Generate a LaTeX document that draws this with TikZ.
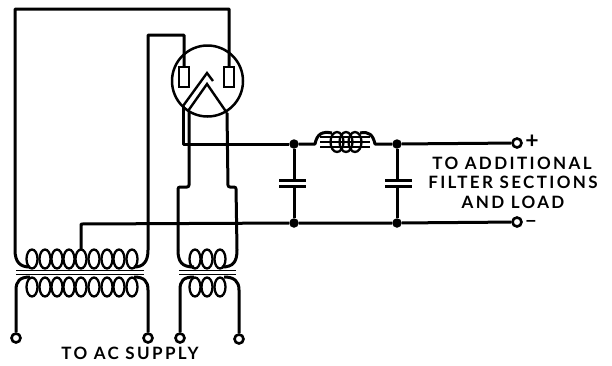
\documentclass[tikz,border=0pt]{standalone}
\usepackage{fontspec}
\setmainfont{Lato}[UprightFont=* Bold,LetterSpace=14]
\begin{document}
\begin{tikzpicture}[x=1pt,y=-1pt,
  wire/.style={line width=3pt,line join=round},
  thin wire/.style={line width=2.4pt},
  coil/.style={line width=2.3pt},
  term/.style={circle,draw,line width=2.6pt,fill=white,minimum size=9pt,inner sep=0pt},
  dot/.style={circle,fill=black,minimum size=9.5pt,inner sep=0pt},
  plate/.style={rectangle,draw,line width=2.2pt,fill=white,minimum width=10pt,minimum height=20pt,inner sep=0pt},
  lbl/.style={font=\fontsize{17}{19}\selectfont,align=center,inner sep=0pt},
  sign/.style={font=\fontsize{23}{23}\selectfont,inner sep=0pt},
  corel/.style={line width=1.5pt}]
\useasboundingbox (0,0) rectangle (612,365);
\fill[white] (0,0) rectangle (612,365);
% named points
\coordinate (tl) at (15,9); \coordinate (tr) at (229,9);
\coordinate (il) at (148,35); \coordinate (ir) at (184,35);
\node[circle,draw,line width=2.5pt,minimum size=71pt,inner sep=0pt] (tube) at (207.5,81) {};
\node[plate] (pl) at (184,77) {};
\node[plate] (pr) at (229,77) {};
\coordinate (cL) at (183,144);
\node[dot] (j1) at (294,144) {};
\node[dot] (j2) at (397,144) {};
\node[dot] (j3) at (294,223) {};
\node[dot] (j4) at (397,223) {};
\node[term] (tp) at (517,143) {};
\node[term] (tm) at (517,222) {};
\node[term] (t1) at (16,338) {};
\node[term] (t2) at (148,338) {};
\node[term] (t3) at (180,338) {};
\node[term] (t4) at (239,339) {};
% HV winding ends and return wires
\draw[wire] (pr.north) -- (tr) -- (tl) -- (15,250) .. controls (15,262) and (20,267) .. (30,267);
\draw[wire] (pl.north) -- (ir) -- (il) -- (148,250) .. controls (148,262) and (143,267) .. (134,267);
% cathode
\draw[thin wire,line join=miter] (183,106) -- (207,73) -- (213,81);
\draw[thin wire,line join=miter] (188,111) -- (207,84) -- (227,113);
\draw[wire] (183,106) -- (cL) -- (j1);
\draw[wire,rounded corners=2pt] (189,111) -- (189,187) -- (178,187) -- (178,250);
\draw[wire] (178,250) .. controls (178,262) and (182,267) .. (194,267);
\draw[wire,rounded corners=2pt] (227,113) -- (228,187) -- (236,187) -- (237,250);
\draw[wire] (237,250) .. controls (237,262) and (233,267) .. (222,267);
% filter
\draw[wire] (j1) -- (315,144) .. controls (317,134) and (322,131) .. (332,133);
\draw[wire] (360,133) .. controls (369,131) and (373,135) .. (375,144) -- (j2) -- (tp);
\draw[wire] (81,250) -- (81,224) -- (j3) -- (j4) -- (tm);
\draw[wire] (j1) -- (j3);
\draw[wire] (j2) -- (j4);
\fill[white] (278,181) rectangle (308,185);
\fill[white] (384,181) rectangle (414,185);
\draw[wire] (279,180) -- (306,180) (279,186) -- (306,186);
\draw[wire] (385,180) -- (412,180) (385,186) -- (412,186);
% choke
\foreach \x in {337,346,355}
  \draw[coil] (\x,142) ellipse (6.5 and 10);
\draw[corel] (320,137) -- (370,137) (320,142) -- (370,142) (320,147) -- (370,147);
% main transformer
\foreach \x in {32,45,57,69,81,94,107,119,132} {
  \draw[coil] (\x,259) ellipse (5.5 and 9.5);
  \draw[coil] (\x,287) ellipse (5.5 and 9.5);
}
\draw[wire] (t1) -- (16,290) .. controls (16,281) and (20,277) .. (30,277);
\draw[wire] (t2) -- (148,290) .. controls (148,281) and (144,277) .. (134,277);
\draw[corel] (16,270.5) -- (144,270.5) (16,274.5) -- (144,274.5);
% filament transformer
\foreach \x in {195,207,220} {
  \draw[coil] (\x,259) ellipse (5.5 and 9.5);
  \draw[coil] (\x,287) ellipse (5.5 and 9.5);
}
\draw[wire] (t3) -- (180,290) .. controls (180,281) and (183,277) .. (194,277);
\draw[wire] (t4) -- (239,290) .. controls (239,281) and (234,277) .. (224,277);
\draw[corel] (179,270.5) -- (236,270.5) (179,274.5) -- (236,274.5);
% labels
\node[sign] (plus) at (532,142) {+};
\node[lbl,xscale=2] (minus) at (531,223) {-};
\node[lbl] (ac) at (130,353) {TO AC SUPPLY};
\node[lbl] (f1) at (512,163) {TO ADDITIONAL};
\node[lbl] (f2) at (513,182) {FILTER SECTIONS};
\node[lbl] (f3) at (513,202) {AND LOAD};
\end{tikzpicture}
\end{document}
